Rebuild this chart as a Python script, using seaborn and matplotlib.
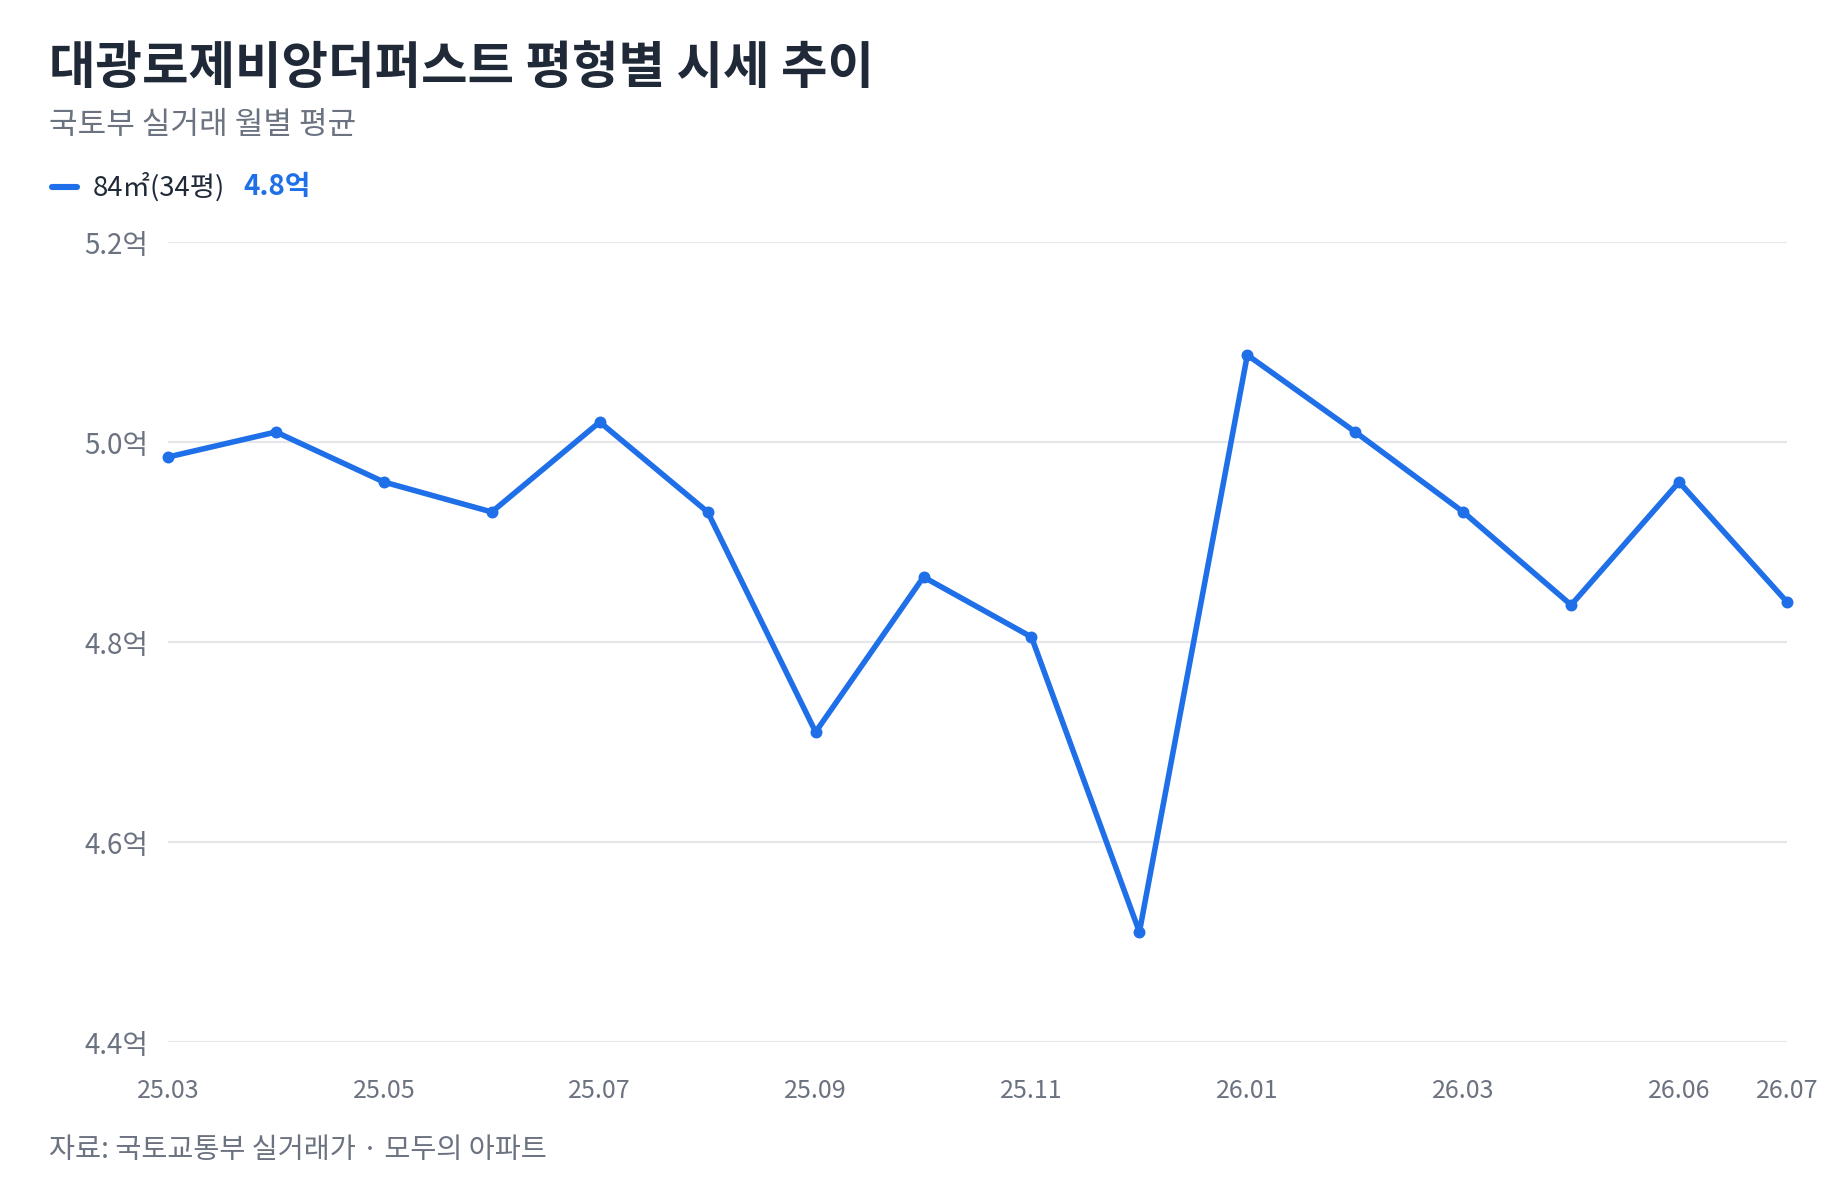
import matplotlib
matplotlib.use("Agg")
import matplotlib.pyplot as plt
from matplotlib.lines import Line2D
import numpy as np
import pandas as pd
import seaborn as sns

# 월별 평균 실거래가 (억)
months = ["25.03", "25.04", "25.05", "25.06", "25.07", "25.08", "25.09", "25.10",
          "25.11", "25.12", "26.01", "26.02", "26.03", "26.04", "26.06", "26.07"]
prices = [4.985, 5.01, 4.96, 4.93, 5.02, 4.93, 4.71, 4.865,
          4.805, 4.51, 5.087, 5.01, 4.93, 4.837, 4.96, 4.84]
series_name = "84㎡(34평)"
shown_ticks = ["25.03", "25.05", "25.07", "25.09", "25.11", "26.01", "26.03", "26.06", "26.07"]
y_ticks = [4.4, 4.6, 4.8, 5.0, 5.2]

title = "대광로제비앙더퍼스트 평형별 시세 추이"
subtitle = "국토부 실거래 월별 평균"
source = "자료: 국토교통부 실거래가 · 모두의 아파트"

blue = "#1f6fe8"
dark = "#1f2937"
gray = "#6b7280"
grid = "#e5e7eb"

sns.set_theme(style="white")
plt.rcParams["font.family"] = ["Noto Sans CJK KR", "DejaVu Sans"]

df = pd.DataFrame({"month": months, "price": prices})
df["pos"] = np.arange(len(df))

W, H, DPI = 1840, 1196, 200
fig = plt.figure(figsize=(W / DPI, H / DPI), dpi=DPI)
ax = fig.add_axes([168 / W, 1 - 1042 / H, (1787 - 168) / W, (1042 - 242) / H])

sns.lineplot(data=df, x="pos", y="price", ax=ax, color=blue, linewidth=2.0,
             marker="o", markersize=4.3, markeredgewidth=0, zorder=3, clip_on=False)

ax.set_xlim(0, len(df) - 1)
ax.set_ylim(y_ticks[0], y_ticks[-1])
ax.set_yticks(y_ticks)
ax.set_yticklabels([f"{v:.1f}억" for v in y_ticks])
tick_pos = [months.index(m) for m in shown_ticks]
ax.set_xticks(tick_pos)
ax.set_xticklabels(shown_ticks)
ax.set_xlabel("")
ax.set_ylabel("")

ax.grid(axis="y", color=grid, linewidth=0.8)
ax.grid(axis="x", visible=False)
for s in ax.spines.values():
    s.set_visible(False)
ax.tick_params(axis="y", length=0, pad=7, labelsize=10, labelcolor=gray)
ax.tick_params(axis="x", length=0, pad=13, labelsize=9, labelcolor=gray)

# 제목 / 부제
fig.text(49 / W, 1 - 69 / H, title, fontsize=18.2, fontweight="bold", color=dark,
         ha="left", va="center")
fig.text(49 / W, 1 - 125 / H, subtitle, fontsize=11.2, color=gray,
         ha="left", va="center")

# 범례
ly = 1 - 187 / H
fig.add_artist(Line2D([52 / W, 77 / W], [ly, ly], color=blue, linewidth=2.2,
                      solid_capstyle="round", transform=fig.transFigure))
fig.text(93 / W, ly, series_name, fontsize=9.9, color=dark, ha="left", va="center")
fig.text(243 / W, ly, f"{prices[-1]:.1f}억", fontsize=10, fontweight="bold",
         color=blue, ha="left", va="center")

# 출처
fig.text(49 / W, 1 - 1150 / H, source, fontsize=10.2, color=gray,
         ha="left", va="center")

fig.savefig("out.png", dpi=DPI, facecolor="white")
